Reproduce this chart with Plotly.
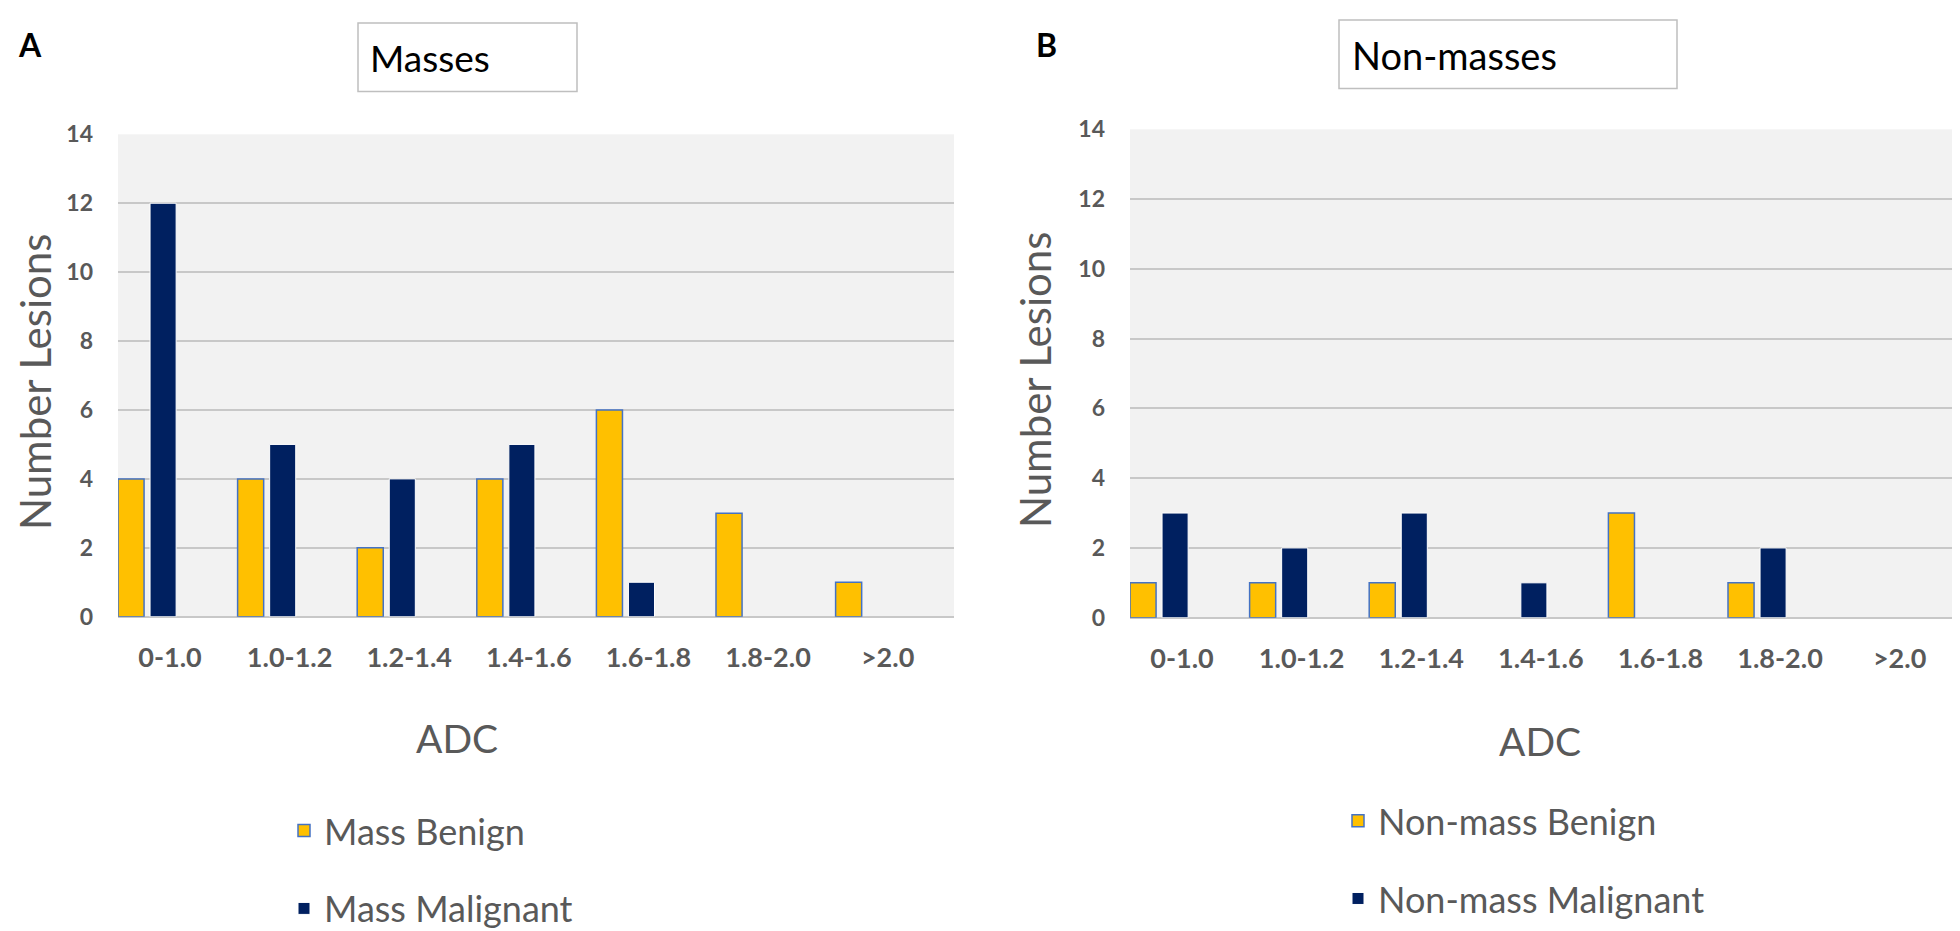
import plotly.graph_objects as go

# ---------------- data ----------------
categories = ["0-1.0", "1.0-1.2", "1.2-1.4", "1.4-1.6", "1.6-1.8", "1.8-2.0", ">2.0"]
mass_benign = [4, 4, 2, 4, 6, 3, 1]
mass_malignant = [12, 5, 4, 5, 1, 0, 0]
nonmass_benign = [1, 1, 1, 0, 3, 1, 0]
nonmass_malignant = [3, 2, 3, 1, 0, 2, 0]
y_ticks = [0, 2, 4, 6, 8, 10, 12, 14]

# ---------------- layout helpers ----------------
W, H = 1960, 931


def fx(p):
    return p / W


def fy(p):
    return 1 - p / H


def nz(vals):
    # empty bins are left undrawn (no zero-height outline)
    return [v if v else None for v in vals]


YELLOW = "#FFC000"
YELLOW_LINE = "#4472C4"
NAVY = "#002060"
NAVY_LINE = "#FFFFFF"
GRID = "#C8C8C8"
TXT = "#595959"
FONT = "Lato, 'Open Sans', sans-serif"

BAR_W = 0.218
OFF_B = -0.435
OFF_M = -0.167

fig = go.Figure()

fig.add_trace(go.Bar(
    x=categories, y=nz(mass_benign), name="Mass Benign", xaxis="x", yaxis="y",
    offset=OFF_B, width=BAR_W, legend="legend", legendgroup="mb",
    marker=dict(color=YELLOW, line=dict(color=YELLOW_LINE, width=1.5)),
))
fig.add_trace(go.Bar(
    x=categories, y=nz(mass_malignant), name="Mass Malignant", xaxis="x", yaxis="y",
    offset=OFF_M, width=BAR_W, legend="legend", legendgroup="mm",
    marker=dict(color=NAVY, line=dict(color=NAVY_LINE, width=1)),
))
fig.add_trace(go.Bar(
    x=categories, y=nz(nonmass_benign), name="Non-mass Benign", xaxis="x2", yaxis="y2",
    offset=OFF_B, width=BAR_W, legend="legend2", legendgroup="nb",
    marker=dict(color=YELLOW, line=dict(color=YELLOW_LINE, width=1.5)),
))
fig.add_trace(go.Bar(
    x=categories, y=nz(nonmass_malignant), name="Non-mass Malignant", xaxis="x2", yaxis="y2",
    offset=OFF_M, width=BAR_W, legend="legend2", legendgroup="nm",
    marker=dict(color=NAVY, line=dict(color=NAVY_LINE, width=1)),
))

xaxis_common = dict(
    type="category", categoryorder="array", categoryarray=categories,
    range=[-0.435, 6.555], showgrid=False, zeroline=False, showline=False,
    ticks="", ticklabelstandoff=22, automargin=False, fixedrange=True,
    tickfont=dict(family=FONT, size=27, color=TXT, weight="bold"),
)
yaxis_common = dict(
    range=[0, 14], tickvals=y_ticks, showgrid=True, gridcolor=GRID, gridwidth=2,
    zeroline=True, zerolinecolor=GRID, zerolinewidth=2, showline=False,
    ticks="", ticklabelstandoff=24, automargin=False, fixedrange=True,
    tickfont=dict(family=FONT, size=23, color=TXT, weight="bold"),
)

legend_common = dict(
    xanchor="left", yanchor="top", orientation="v",
    font=dict(family=FONT, size=36, color=TXT),
    tracegroupgap=28, bgcolor="rgba(0,0,0,0)", itemclick=False, itemdoubleclick=False,
)

fig.update_layout(
    width=W, height=H, autosize=False,
    margin=dict(l=0, r=0, t=0, b=0, pad=0),
    template="none",
    paper_bgcolor="white",
    plot_bgcolor="#F2F2F2",
    barmode="overlay",
    font=dict(family=FONT, color=TXT),
    xaxis=dict(domain=[fx(110), fx(946)], anchor="y", **xaxis_common),
    yaxis=dict(domain=[fy(612), fy(127)], anchor="x", **yaxis_common),
    xaxis2=dict(domain=[fx(1122), fx(1958)], anchor="y2", **xaxis_common),
    yaxis2=dict(domain=[fy(613), fy(122)], anchor="x2", **yaxis_common),
    legend=dict(x=fx(276), y=fy(797), **legend_common),
    legend2=dict(x=fx(1330), y=fy(787), **legend_common),
    showlegend=True,
)

# Title boxes
fig.add_shape(type="rect", xref="paper", yref="paper",
              x0=fx(350), x1=fx(569), y0=fy(84), y1=fy(15),
              line=dict(color="#BFBFBF", width=1.5), fillcolor="white")
fig.add_shape(type="rect", xref="paper", yref="paper",
              x0=fx(1331), x1=fx(1669), y0=fy(81), y1=fy(12),
              line=dict(color="#BFBFBF", width=1.5), fillcolor="white")

annotations = [
    dict(text="A", x=fx(8), y=fy(37), xanchor="left", yanchor="middle",
         font=dict(family=FONT, size=32, color="black", weight="bold")),
    dict(text="B", x=fx(1026), y=fy(37), xanchor="left", yanchor="middle",
         font=dict(family=FONT, size=32, color="black", weight="bold")),
    dict(text="Masses", x=fx(360), y=fy(50), xanchor="left", yanchor="middle",
         font=dict(family=FONT, size=37, color="black")),
    dict(text="Non-masses", x=fx(1342), y=fy(47), xanchor="left", yanchor="middle",
         font=dict(family=FONT, size=38, color="black")),
    dict(text="ADC", x=fx(449), y=fy(734), xanchor="center", yanchor="middle",
         font=dict(family=FONT, size=39, color=TXT)),
    dict(text="ADC", x=fx(1532), y=fy(737), xanchor="center", yanchor="middle",
         font=dict(family=FONT, size=39, color=TXT)),
    dict(text="Number Lesions", x=fx(0), y=fy(376), xanchor="left", yanchor="middle",
         textangle=-90, font=dict(family=FONT, size=42, color=TXT)),
    dict(text="Number Lesions", x=fx(1027), y=fy(374), xanchor="center", yanchor="middle",
         textangle=-90, font=dict(family=FONT, size=42, color=TXT)),
]
for a in annotations:
    a.update(xref="paper", yref="paper", showarrow=False)
fig.update_layout(annotations=annotations)

fig.write_html("out.html")
